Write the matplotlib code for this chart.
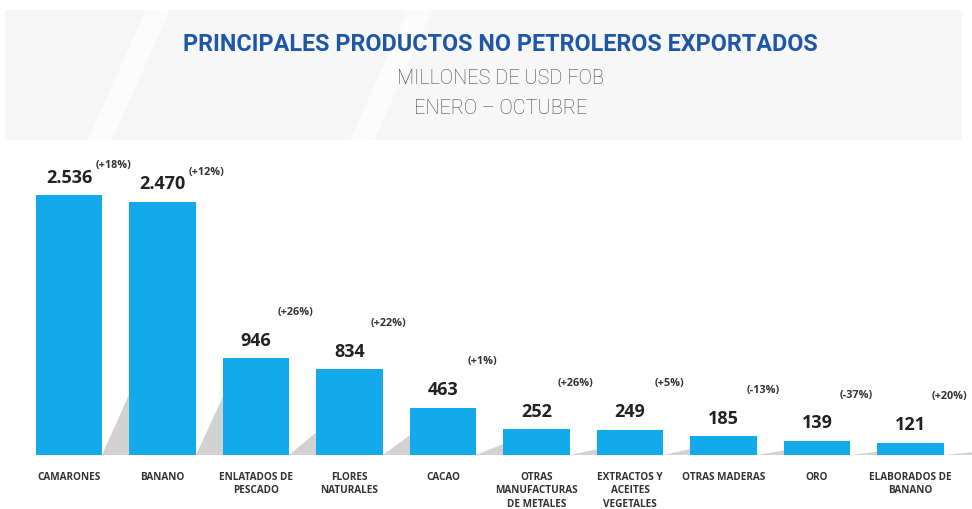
import matplotlib
matplotlib.use('Agg')
import matplotlib.pyplot as plt
from matplotlib.patches import Polygon

# data
categorias = ['CAMARONES', 'BANANO', 'ENLATADOS DE\nPESCADO', 'FLORES\nNATURALES', 'CACAO',
              'OTRAS\nMANUFACTURAS\nDE METALES', 'EXTRACTOS Y\nACEITES\nVEGETALES',
              'OTRAS MADERAS', 'ORO', 'ELABORADOS DE\nBANANO']
valores = [2536, 2470, 946, 834, 463, 252, 249, 185, 139, 121]
etiquetas = ['2.536', '2.470', '946', '834', '463', '252', '249', '185', '139', '121']
variacion = ['(+18%)', '(+12%)', '(+26%)', '(+22%)', '(+1%)', '(+26%)', '(+5%)', '(-13%)', '(-37%)', '(+20%)']

plt.rcParams['font.family'] = ['Open Sans', 'DejaVu Sans']

azul = '#12aaea'
fig = plt.figure(figsize=(9.72, 5.09), dpi=100)
fig.patch.set_facecolor('white')

# faint background band behind the titles, with lighter slashes
fig.patches.append(Polygon([(0.005, 0.98), (0.99, 0.98), (0.99, 0.725), (0.005, 0.725)],
                           closed=True, transform=fig.transFigure, facecolor='#f7f7f7',
                           edgecolor='none', zorder=0))
for x0 in (0.09, 0.36):
    fig.patches.append(Polygon([(x0 + 0.06, 0.98), (x0 + 0.085, 0.98), (x0 + 0.025, 0.725), (x0, 0.725)],
                               closed=True, transform=fig.transFigure, facecolor='#fcfcfc',
                               edgecolor='none', zorder=0))

ax = fig.add_axes([0.0, 0.106, 1.0, 0.58])
ax.set_xlim(-0.738, 9.658)
ax.set_ylim(0, 2878)
ax.axis('off')

x = list(range(len(valores)))
w = 0.71
ax.bar(x, valores, width=w, color=azul, zorder=3)

# soft shadows rising behind the next bar
for xi, v in zip(x, valores):
    xr = xi + w / 2
    ax.add_patch(Polygon([(xr, 0), (xr + 0.45, 0), (xr + 0.45, 0.36 * v)],
                         closed=True, facecolor='#c4c4c4', edgecolor='none', alpha=0.75, zorder=2))

for i, (v, lab, pct) in enumerate(zip(valores, etiquetas, variacion)):
    ax.annotate(lab, (i, v), xytext=(0, 6), textcoords='offset points',
                ha='center', va='bottom', fontsize=13, fontweight='bold', color='#222222')
    if i < 2:
        ax.annotate(pct, (i + 0.28, v), xytext=(0, 17), textcoords='offset points',
                    ha='left', va='bottom', fontsize=7.8, fontweight='bold', color='#333333')
    else:
        ax.annotate(pct, (i + 0.42, v), xytext=(0, 29), textcoords='offset points',
                    ha='center', va='bottom', fontsize=7.8, fontweight='bold', color='#333333')
    ax.annotate(categorias[i], (i, 0), xytext=(0, -12), textcoords='offset points',
                ha='center', va='top', fontsize=7.2, fontweight='bold', color='#333333',
                linespacing=1.32)

fig.text(0.515, 0.912, 'PRINCIPALES PRODUCTOS NO PETROLEROS EXPORTADOS', ha='center', va='center',
         fontsize=16.8, fontweight='bold', color='#1e56a8', family=['Roboto', 'DejaVu Sans'])
fig.text(0.515, 0.845, 'MILLONES DE USD FOB', ha='center', va='center',
         fontsize=14.3, fontweight='light', color='#444444', family=['Roboto', 'DejaVu Sans'])
fig.text(0.515, 0.786, 'ENERO – OCTUBRE', ha='center', va='center',
         fontsize=14.3, fontweight='light', color='#444444', family=['Roboto', 'DejaVu Sans'])

fig.savefig('out.png', dpi=100)
